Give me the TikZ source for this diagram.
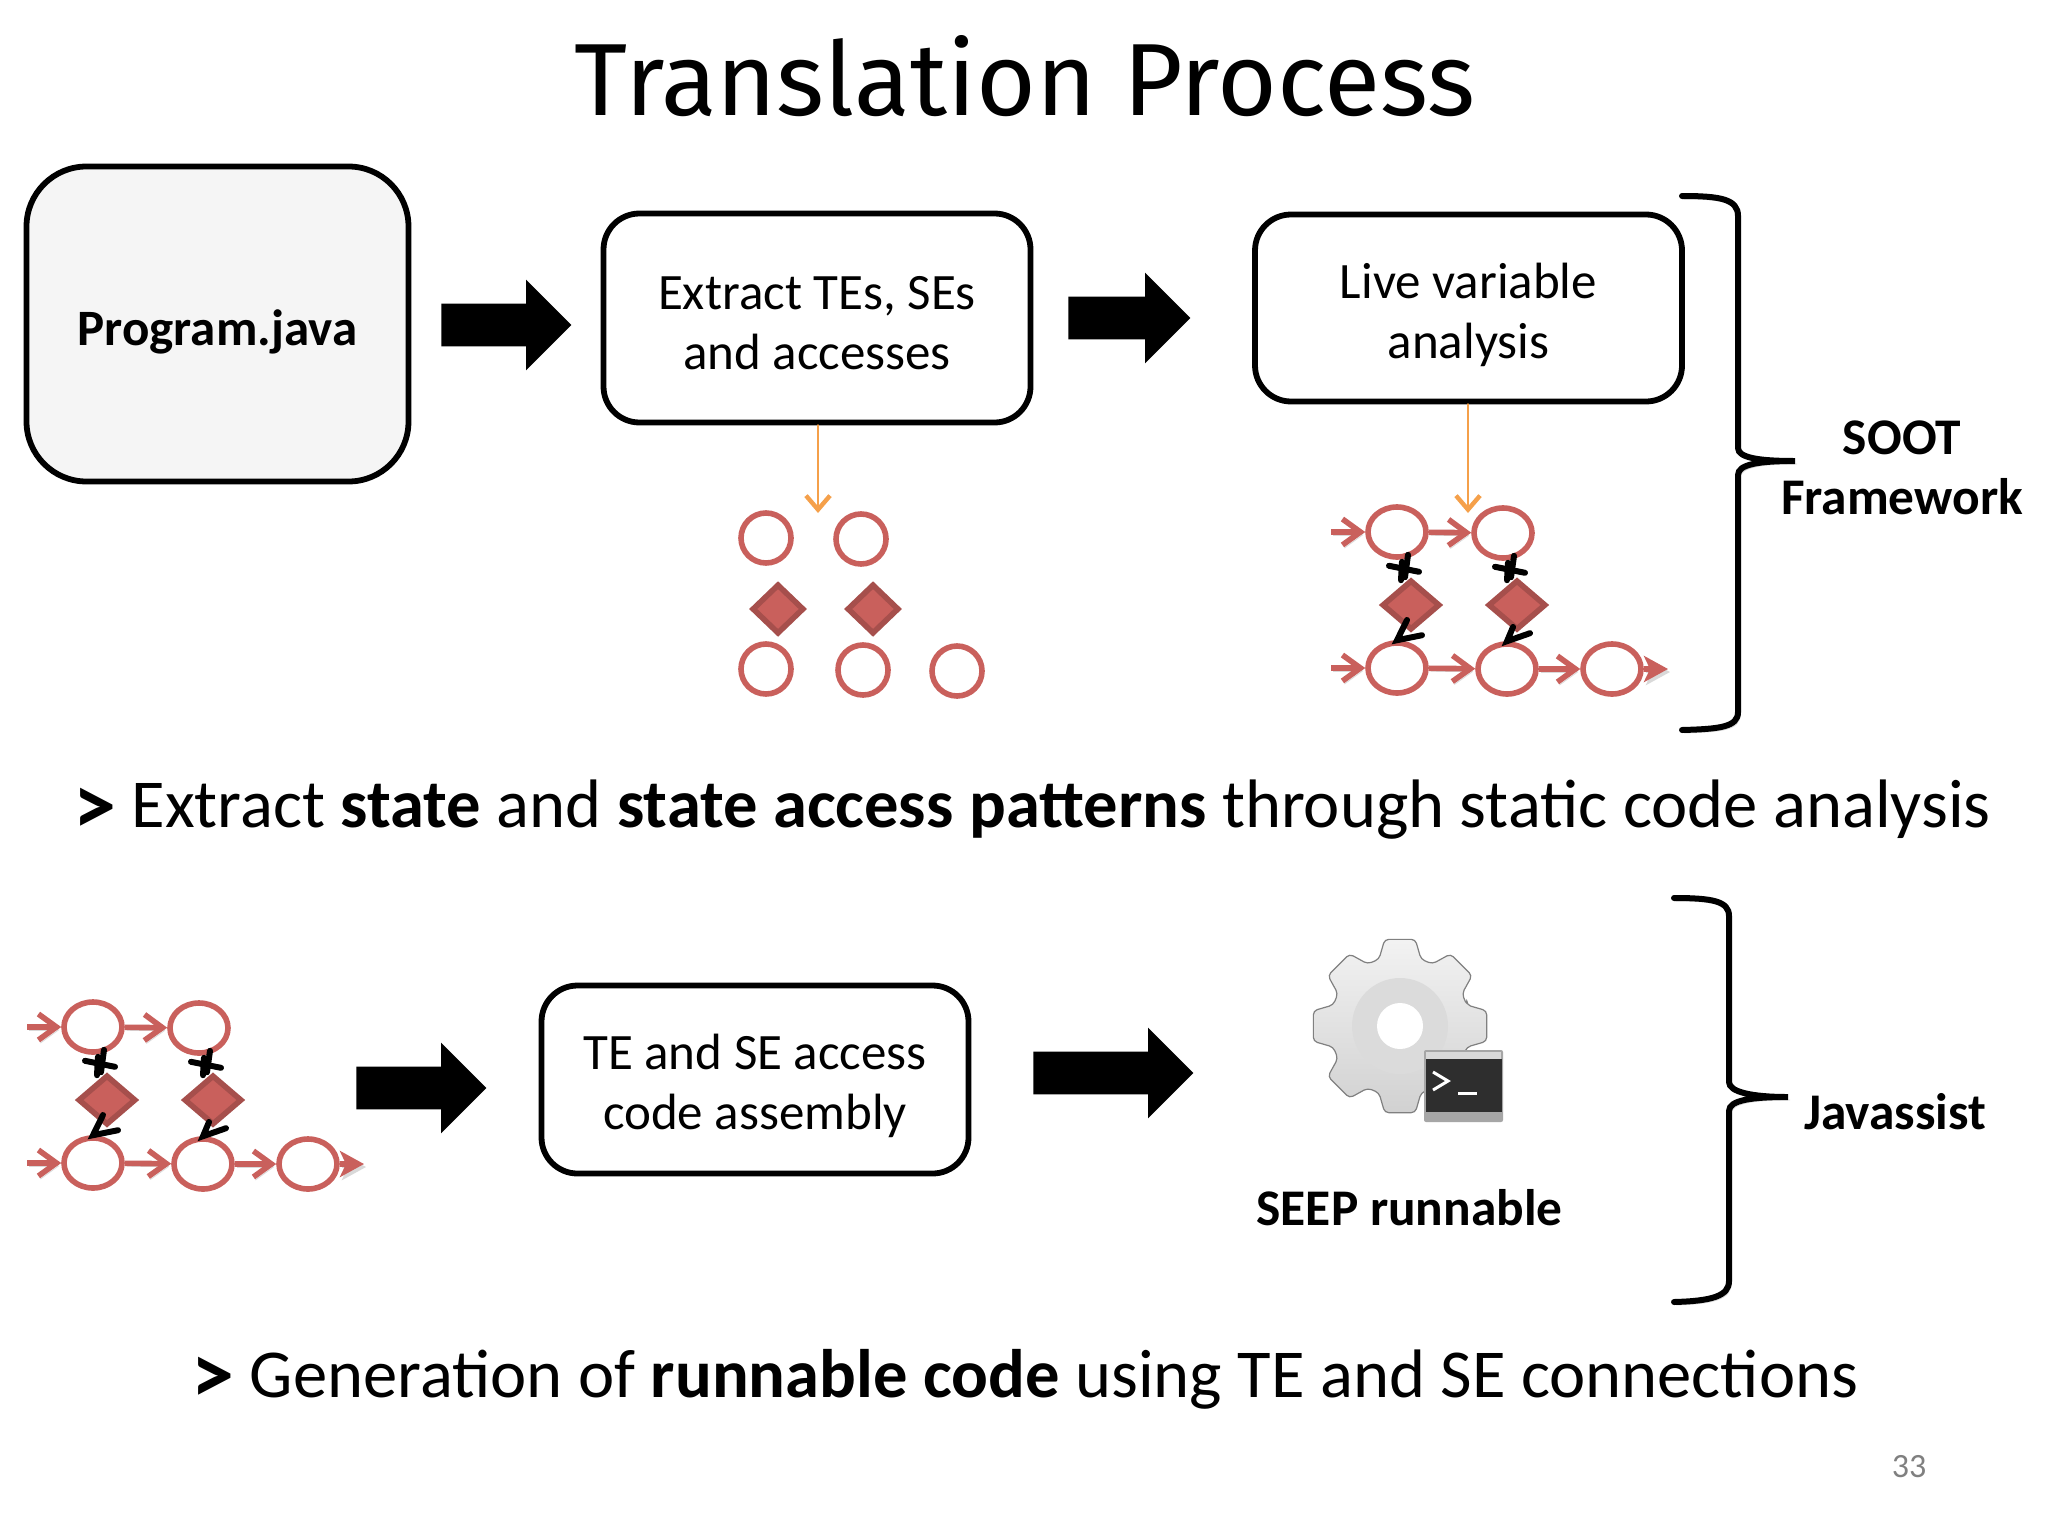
\documentclass[tikz,border=0pt]{standalone}
\usepackage{fontspec}
\setmainfont{Carlito}
\newfontfamily\titlefont{Fira Sans}
\usetikzlibrary{positioning, arrows.meta, shapes.geometric, shapes.arrows}

\definecolor{flowred}{HTML}{C9605C}
\definecolor{flowdark}{HTML}{A64F4C}
\definecolor{tiporange}{HTML}{F5A04A}

\newcommand{\promptmark}{\raisebox{-3.3pt}{\fontsize{43}{40}\selectfont\bfseries >}}

\tikzset{
  softshadow/.style={preaction={draw=black!15, transform canvas={shift={(1pt,-1.5pt)}}}},
  box/.style={rectangle, draw=black, line width=2.9pt, rounded corners=18pt, inner sep=0pt},
  boxtext/.style={font=\fontsize{25.5}{30}\selectfont, align=center},
  blockarrow/.style={single arrow, fill=black, inner sep=0pt, inner ysep=10.5pt,
    single arrow head extend=12pt, text height=0pt, text depth=0pt, anchor=west},
  tiparrow/.style={draw=tiporange, line width=1.4pt, line cap=round,
    -{Straight Barb[length=7pt, width=12pt, line width=2.2pt]}},
  statecirc/.style={ellipse, draw=flowred, line width=2.8pt, fill=white, inner sep=0pt},
  statediam/.style={diamond, draw=flowdark, line width=2.8pt, fill=flowred, inner sep=0pt,
    minimum width=26pt, minimum height=25pt},
  redflow/.style={draw=flowred, line width=2.8pt, softshadow,
    -{Straight Barb[length=9pt, width=13pt, line width=2.8pt]}},
  blackflow/.style={draw=black, line width=3pt, line cap=round},
  bracket/.style={draw=black, line width=3pt, line cap=round, softshadow},
  boldtext/.style={font=\fontsize{25.7}{30}\selectfont\bfseries, align=center},
  sentence/.style={font=\fontsize{34.3}{40}\selectfont},
  % the graph with its state and access edges
  flowgraph/.pic={
    \node [statecirc, minimum width=29pt, minimum height=25pt] (-ta) at (0,0) {};
    \node [statecirc, minimum width=29pt, minimum height=25pt] (-tb) at (106,1) {};
    \node [statecirc, minimum width=29pt, minimum height=25pt] (-ba) at (0,136) {};
    \node [statecirc, minimum width=29pt, minimum height=25pt] (-bb) at (110,137) {};
    \node [statecirc, minimum width=29pt, minimum height=25pt] (-bc) at (215,137) {};
    \node [statediam, minimum width=29pt] (-da) at (14,73) {};
    \node [statediam, minimum width=29pt] (-db) at (120,73) {};
    \coordinate (-ina) at (-66,0);
    \coordinate (-inb) at (-66,136);
    \coordinate (-out) at (271,137);
    \draw [redflow] (-ina) -- (-ta);
    \draw [redflow] (-ta) -- (-tb);
    \draw [redflow] (-inb) -- (-ba);
    \draw [redflow] (-ba) -- (-bb);
    \draw [redflow] (-bb) -- (-bc);
    \draw [draw=flowred, line width=2.8pt, softshadow, -{Stealth[length=12pt, width=13pt, inset=3pt]}] (-bc) -- (-out);
    \foreach \dd in {a, b} {
      \draw [blackflow] ([xshift=5.5pt,yshift=2.5pt]-t\dd.south) -- ([xshift=-3pt]-d\dd.north);
      \draw [blackflow] ([xshift=2.5pt,yshift=-1pt]-t\dd.south) -- ([xshift=-5pt,yshift=-1.5pt]-d\dd.north);
      \draw [blackflow] ([xshift=-4pt,yshift=-3pt]-t\dd.south) -- ([xshift=11pt,yshift=-6pt]-t\dd.south);
    }
    \draw [blackflow] ([xshift=-2pt,yshift=-7.5pt]-da.center) -- (-ba.north) -- ++(25,-5);
    \draw [blackflow] ([xshift=-2pt,yshift=-11pt]-db.center) -- (-bb.north) -- ++(23,-8);
  }
}

\begin{document}
\begin{tikzpicture}[x=0.5pt, y=-0.5pt]
  \useasboundingbox [fill=white] (0,0) rectangle (2048,1536);

  \node [font=\titlefont\fontsize{51.3}{54}\selectfont] (title) at (1025,76) {Translation Process};

  % first row
  \node [box, fill=black!4, rounded corners=30pt, minimum width=191pt, minimum height=157.5pt,
    label={[boxtext, font=\fontsize{25.5}{30}\selectfont\bfseries, yshift=-4pt]center:Program.java}] (program) at (217.5,324) {};
  \node [box, minimum width=213.5pt, minimum height=104.5pt,
    label={[boxtext, yshift=-2.6pt]center:{Extract TEs, SEs\\and accesses}}] (extract) at (817,318) {};
  \node [box, minimum width=213.5pt, minimum height=93.5pt,
    label={[boxtext, yshift=-3.3pt]center:{Live variable\\analysis}}] (live) at (1468.5,308) {};
  \node [blockarrow, minimum height=65pt, minimum width=44pt] (arrowa) at (441,325) {};
  \node [blockarrow, minimum height=61pt, minimum width=44pt] (arrowb) at (1068,318) {};

  \coordinate (tipa) at (818,513);
  \coordinate (tipb) at (1468,513);
  \draw [tiparrow] (extract.south -| tipa) -- (tipa);
  \draw [tiparrow] (live.south -| tipb) -- (tipb);

  % loose states
  \foreach \nm/\px/\py in {ca/766/538, cb/861/539, cc/766/669, cd/863/670, ce/957/671} {
    \node [statecirc, minimum width=25pt, minimum height=25pt] (\nm) at (\px,\py) {};
  }
  \node [statediam] (da) at (778,609) {};
  \node [statediam] (db) at (873,609) {};

  \pic (analysed) at (1397,532) {flowgraph};

  \draw [bracket] (1682,196) .. controls (1720,196) and (1738,199) .. (1738,216) -- (1738,448)
    .. controls (1738,458) and (1760,461) .. (1795,461) .. controls (1760,461) and (1738,464) .. (1738,475)
    -- (1738,712) .. controls (1738,727) and (1720,729) .. (1682,730);
  \node [boldtext] (soot) at (1902,468) {SOOT\\Framework};

  \node [sentence] (first) at (1032,809.5) {\promptmark{} Extract \textbf{state} and \textbf{state access patterns} through static code analysis};

  % second row
  \pic (assembled) at (93,1027) {flowgraph};
  \node [blockarrow, minimum height=65pt, minimum width=44pt] (arrowc) at (356,1088) {};
  \node [box, minimum width=213.5pt, minimum height=94pt,
    label={[boxtext, yshift=-3.2pt]center:{TE and SE access\\code assembly}}] (assembly) at (755,1079.5) {};
  \node [blockarrow, minimum height=80pt, minimum width=44pt] (arrowd) at (1033,1073) {};

  % gear with the terminal in front of it
  \coordinate (gearc) at (1400,1026);
  \begin{scope}[shift={(gearc)}]
    \shade [top color=black!5, bottom color=black!18, draw=black!50, line width=0.6pt, rounded corners=2pt]
      (-17.5:70) foreach \a in {0,45,...,315} {
        -- (\a-17.5:70) -- (\a-10:88) -- (\a+10:88) -- (\a+17.5:70)
      } -- cycle;
    \fill [black!14] (0,0) circle [radius=48];
    \fill [white] (0,0) circle [radius=23];
    \fill [black!35, rounded corners=1pt] (24,24) rectangle (103,96);
    \fill [black!15] (26,26) rectangle (101,33);
    \fill [black!82] (26,33) rectangle (102,86);
    \draw [white, line width=1.5pt] (33,46) -- (48,55) -- (33,64);
    \draw [white, line width=1.5pt] (58,67) -- (77,67);
  \end{scope}

  \node [boldtext] (seep) at (1409.5,1207.5) {SEEP runnable};

  \draw [bracket] (1674,898) .. controls (1712,898) and (1729,901) .. (1729,916) -- (1729,1082)
    .. controls (1729,1092) and (1752,1097) .. (1788,1097) .. controls (1752,1097) and (1729,1100) .. (1729,1111)
    -- (1729,1281) .. controls (1729,1296) and (1712,1301) .. (1674,1302);
  \node [boldtext] (javassist) at (1895,1112) {Javassist};

  \node [sentence] (second) at (1025,1379) {\promptmark{} Generation of \textbf{runnable code} using TE and SE connections};
  \node [text=black!50, font=\fontsize{17}{20}\selectfont] (pageno) at (1909,1467) {33};
\end{tikzpicture}
\end{document}
